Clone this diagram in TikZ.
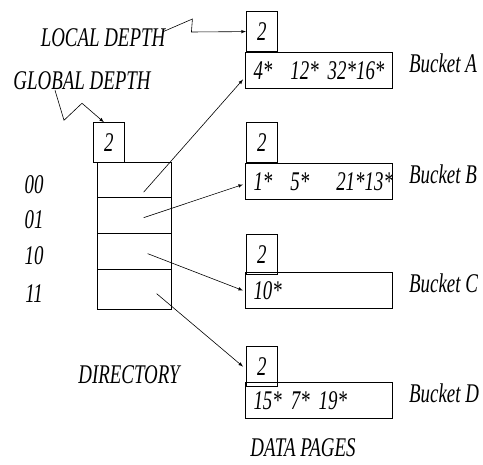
\documentclass[tikz,border=0pt]{standalone}
\usepackage{fontspec}
\setmainfont{Liberation Serif}[FakeStretch=0.7]
\usetikzlibrary{calc}

\tikzset{
  lbl/.style={font=\fontsize{27}{32}\selectfont\itshape, inner sep=0pt},
  dircell/.style={draw, line width=1.3pt, minimum width=74pt, anchor=north west, inner sep=0pt},
  depthbox/.style={draw, line width=0.8pt, minimum width=31pt, minimum height=40pt, inner sep=0pt, font=\fontsize{27}{32}\selectfont\itshape},
  bucketbox/.style={draw, line width=1pt, anchor=north west, minimum height=36pt, text width=131pt, inner xsep=8pt, inner ysep=0pt, align=left, font=\fontsize{27}{32}\selectfont\itshape}
}

\begin{document}
\begin{tikzpicture}[x=1pt,y=-1pt]
	\useasboundingbox (0,0) rectangle (483,465);

	% directory
	\foreach \r/\lab/\top/\h in {0/00/162/35, 1/01/197/36, 2/10/233/36, 3/11/269/40}{
		\node[dircell, minimum height=\h pt] (r\r) at (97,\top) {};
		\node[lbl] (n\r) at ({34},{\top+\h/2+5}) {\lab};
	}
	\node[depthbox, anchor=south west] (gbox) at (93,163) {2};
	\node[lbl] (dirlbl) at (129,375) {DIRECTORY};

	% buckets
	\foreach \b/\y/\ov/\keys in {A/52/0/{4*\ \ 12* 32*16*}, B/163/0/{1*\ \ 5*\ \ \ 21*13*}, C/272/3/{10*}, D/382/5/{15* 7* 19*}}{
		\node[bucketbox] (b\b) at (245,\y) {\rlap{\keys}};
		\node[depthbox, anchor=south west] (d\b) at ($(b\b.north west)+(1,\ov)$) {2};
		\node[lbl, anchor=west] (l\b) at ({409},{\y+11}) {Bucket \b};
	}
	\node[lbl, anchor=base] (datalbl) at (303,457) {DATA PAGES};

	% depth labels
	\node[lbl] (ld) at (103,38) {LOCAL DEPTH};
	\node[lbl] (gd) at (82,81) {GLOBAL DEPTH};
	\draw[-latex, line width=0.6pt] ($(ld.east)+(-3,-6)$) -- ++(30,-13) -- ++(-1,13) -- (dA.west);
	\draw[-latex, line width=0.6pt] ($(gd.south)+(-27,0)$) -- ++(9,30) -- ++(18,-17) -- ($(gbox.north)+(-5,0)$);

	% pointers
	\draw[-latex, line width=0.6pt] ($(r0.center)+(9,12)$) -- ($(bA.west)+(-2,9)$);
	\draw[-latex, line width=0.6pt] ($(r1.center)+(9,2)$) -- ($(bB.west)+(-2,3)$);
	\draw[-latex, line width=0.6pt] ($(r2.center)+(13,2)$) -- ($(bC.west)+(-2,0)$);
	\draw[-latex, line width=0.6pt] ($(r3.center)+(22,4)$) -- ($(dD.west)+(-3,0)$);
\end{tikzpicture}
\end{document}
